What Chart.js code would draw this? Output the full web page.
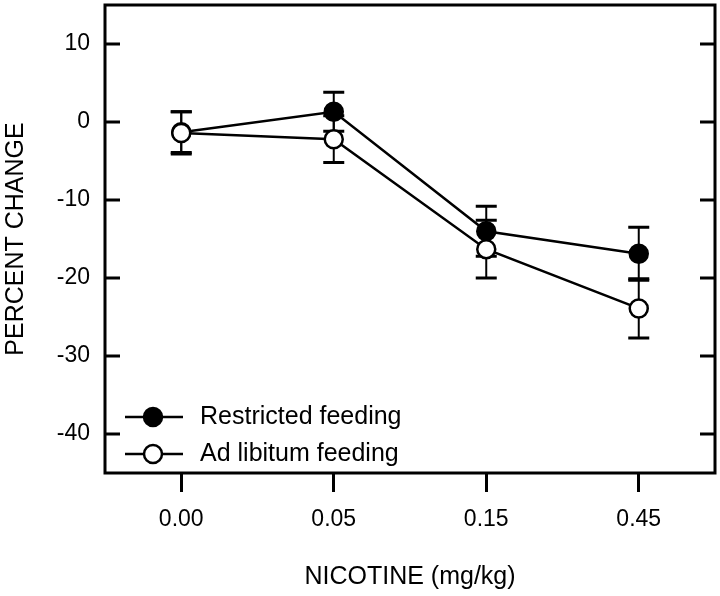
<!DOCTYPE html>
<html>
<head>
<meta charset="utf-8">
<script src="https://cdn.jsdelivr.net/npm/chart.js@4"></script>
<style>
html, body { margin: 0; padding: 0; background: #fff; }
canvas { display: block; }
</style>
</head>
<body>
<canvas id="chartCanvas" width="720" height="596"></canvas>
<script>
// datos
const doses = ['0.00', '0.05', '0.15', '0.45'];
const restricted = [-1.3, 1.3, -14.0, -16.9];
const restrictedErr = [2.6, 2.5, 3.2, 3.4];
const adLib = [-1.4, -2.2, -16.3, -23.9];
const adLibErr = [2.7, 3.0, 3.7, 3.8];
const yTicks = [10, 0, -10, -20, -30, -40];

const FONT = 'Liberation Sans, Arial, sans-serif';
const errs = [restrictedErr, adLibErr];

// barras de error, debajo de los puntos
const errorBars = {
  id: 'errorBars',
  beforeDatasetsDraw(chart) {
    const ctx = chart.ctx;
    const xs = chart.scales.x, ys = chart.scales.y;
    ctx.save();
    ctx.strokeStyle = '#000';
    chart.data.datasets.forEach((ds, d) => {
      ds.data.forEach((v, i) => {
        const px = xs.getPixelForValue(i);
        const top = ys.getPixelForValue(v + errs[d][i]);
        const bot = ys.getPixelForValue(v - errs[d][i]);
        ctx.lineWidth = 2;
        ctx.beginPath();
        ctx.moveTo(px, top);
        ctx.lineTo(px, bot);
        ctx.stroke();
        ctx.lineWidth = 3;
        ctx.beginPath();
        ctx.moveTo(px - 10.5, top);
        ctx.lineTo(px + 10.5, top);
        ctx.moveTo(px - 10.5, bot);
        ctx.lineTo(px + 10.5, bot);
        ctx.stroke();
      });
    });
    ctx.restore();
  }
};

// marco, marcas hacia dentro y leyenda
const frame = {
  id: 'frame',
  afterDraw(chart) {
    const ctx = chart.ctx;
    const a = chart.chartArea;
    const ys = chart.scales.y;
    ctx.save();
    ctx.strokeStyle = '#000';
    ctx.lineWidth = 3;
    ctx.strokeRect(a.left, a.top, a.right - a.left, a.bottom - a.top);
    ctx.beginPath();
    yTicks.forEach(v => {
      const py = ys.getPixelForValue(v);
      ctx.moveTo(a.left, py);
      ctx.lineTo(a.left + 15, py);
      ctx.moveTo(a.right, py);
      ctx.lineTo(a.right - 15, py);
    });
    ctx.stroke();

    // leyenda
    const items = [
      { text: 'Restricted feeding', fill: '#000', y: 417 },
      { text: 'Ad libitum feeding', fill: '#fff', y: 454 }
    ];
    items.forEach(it => {
      ctx.lineWidth = 2.5;
      ctx.beginPath();
      ctx.moveTo(a.left + 20, it.y);
      ctx.lineTo(a.left + 78, it.y);
      ctx.stroke();
      ctx.beginPath();
      ctx.arc(a.left + 48, it.y, 9, 0, Math.PI * 2);
      ctx.fillStyle = it.fill;
      ctx.fill();
      ctx.stroke();
      ctx.fillStyle = '#000';
      ctx.font = '25px ' + FONT;
      ctx.textBaseline = 'middle';
      ctx.textAlign = 'left';
      ctx.fillText(it.text, a.left + 95, it.y);
    });
    ctx.restore();
  }
};

const ctx = document.getElementById('chartCanvas').getContext('2d');
new Chart(ctx, {
  type: 'line',
  data: {
    labels: doses,
    datasets: [
      {
        label: 'Restricted feeding',
        data: restricted,
        borderColor: '#000',
        borderWidth: 2.5,
        pointRadius: 9,
        pointBorderWidth: 2.5,
        pointBackgroundColor: '#000',
        pointBorderColor: '#000',
        tension: 0,
        order: 1
      },
      {
        label: 'Ad libitum feeding',
        data: adLib,
        borderColor: '#000',
        borderWidth: 2.5,
        pointRadius: 9,
        pointBorderWidth: 2.5,
        pointBackgroundColor: '#fff',
        pointBorderColor: '#000',
        tension: 0,
        order: 0
      }
    ]
  },
  options: {
    responsive: false,
    animation: false,
    layout: { autoPadding: false, padding: { top: 5, right: 5, left: 0, bottom: 0 } },
    plugins: {
      legend: { display: false },
      tooltip: { enabled: false }
    },
    scales: {
      x: {
        type: 'category',
        offset: true,
        grid: { drawOnChartArea: false, drawTicks: true, tickLength: 19, lineWidth: 3, color: '#000' },
        border: { display: false },
        ticks: { color: '#000', font: { family: FONT, size: 23 }, padding: 14, maxRotation: 0 },
        title: {
          display: true,
          text: 'NICOTINE (mg/kg)',
          color: '#000',
          font: { family: FONT, size: 25 },
          padding: { top: 0, bottom: 4 }
        },
        afterFit(s) {
          s.height = 123;
          s.paddingLeft = 0;
          s.paddingRight = 0;
        }
      },
      y: {
        min: -45,
        max: 15,
        grid: { display: false, drawTicks: false },
        border: { display: false },
        ticks: { color: '#000', font: { family: FONT, size: 23 }, padding: 15 },
        afterBuildTicks(s) { s.ticks = yTicks.map(v => ({ value: v })); },
        title: {
          display: true,
          text: 'PERCENT CHANGE',
          color: '#000',
          font: { family: FONT, size: 25 },
          padding: { top: 1, bottom: 0 }
        },
        afterFit(s) {
          s.width = 105;
          s.paddingTop = 0;
          s.paddingBottom = 0;
        }
      }
    }
  },
  plugins: [errorBars, frame]
});
</script>
</body>
</html>
